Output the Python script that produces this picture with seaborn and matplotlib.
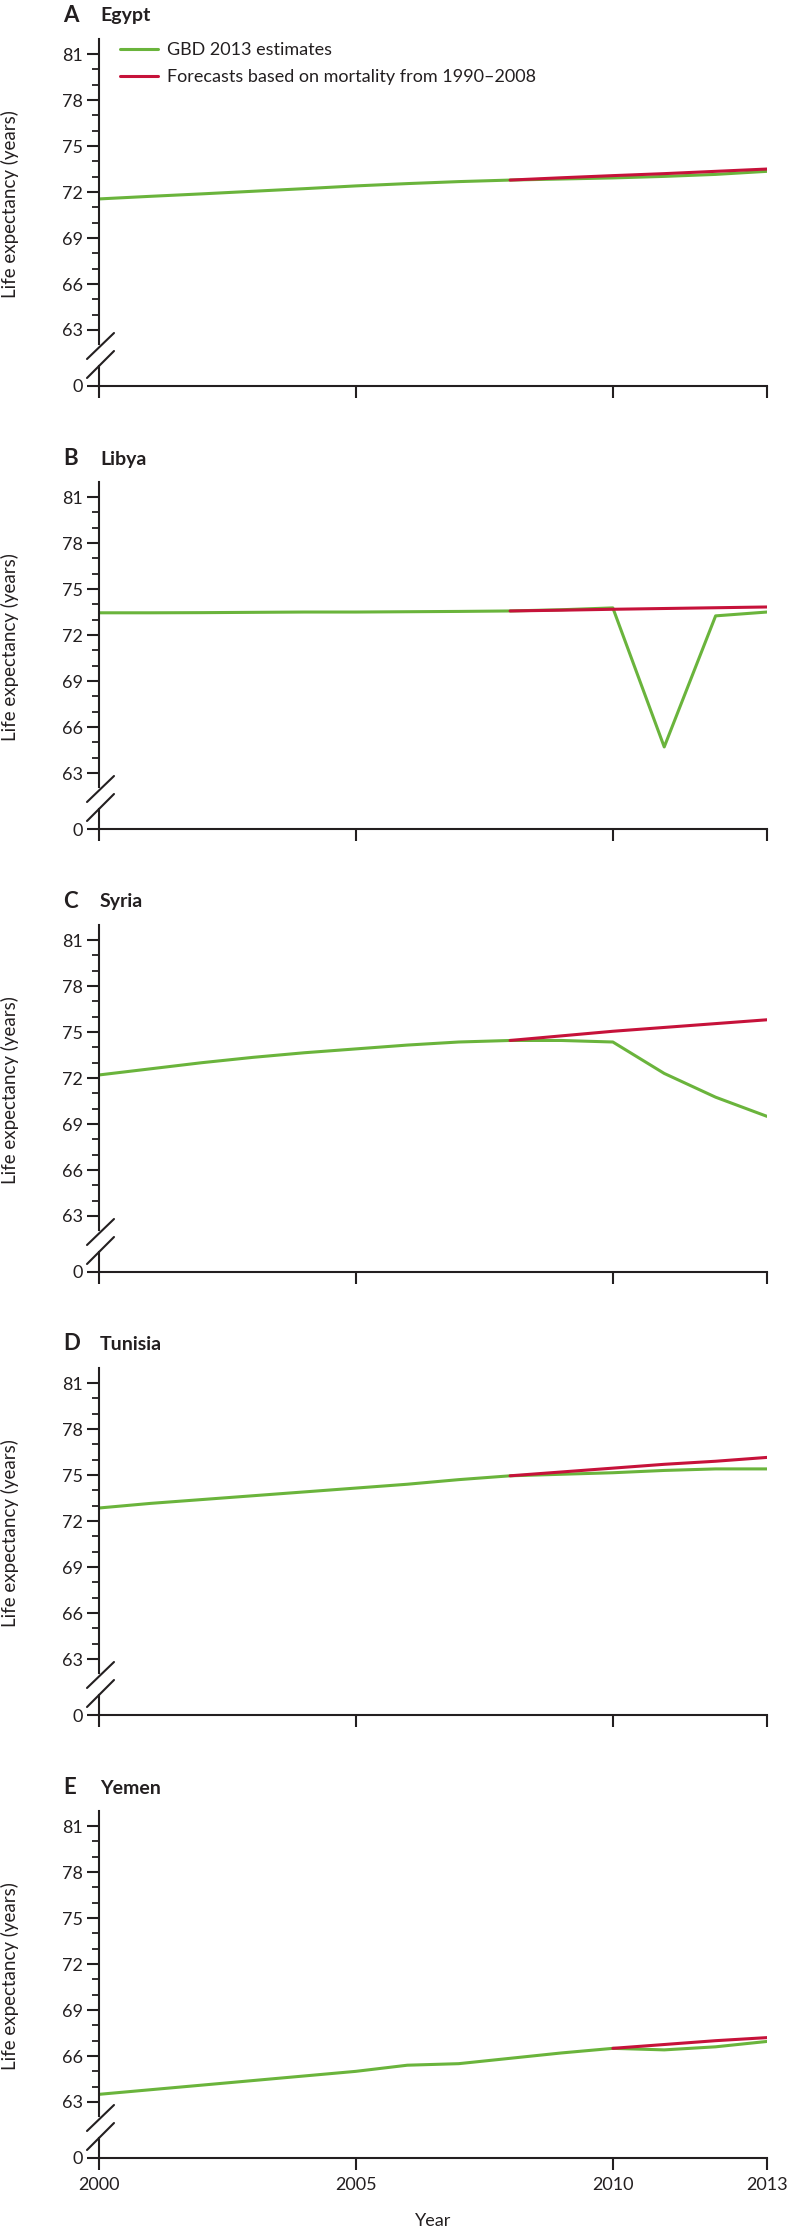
import matplotlib
matplotlib.use('Agg')
import matplotlib.pyplot as plt
from matplotlib.lines import Line2D
from matplotlib.ticker import FixedLocator
import seaborn as sns

sns.set_theme(style='ticks')
plt.rcParams['font.family'] = ['Lato', 'DejaVu Sans']

# Datos
years = list(range(2000, 2014))
forecast_years = list(range(2008, 2014))
forecast_years_yemen = list(range(2010, 2014))

panel_letters = ['A', 'B', 'C', 'D', 'E']
countries = ['Egypt', 'Libya', 'Syria', 'Tunisia', 'Yemen']

egypt_gbd = [71.55, 71.72, 71.88, 72.05, 72.22, 72.4, 72.55, 72.68, 72.78, 72.85, 72.92, 73.02, 73.15, 73.35]
egypt_fc = [72.78, 72.93, 73.07, 73.2, 73.35, 73.5]

libya_gbd = [73.45, 73.45, 73.46, 73.48, 73.5, 73.5, 73.52, 73.54, 73.57, 73.65, 73.77, 64.7, 73.25, 73.5]
libya_fc = [73.57, 73.62, 73.68, 73.73, 73.78, 73.83]

syria_gbd = [72.2, 72.6, 73.0, 73.35, 73.65, 73.9, 74.15, 74.35, 74.45, 74.45, 74.35, 72.3, 70.75, 69.5]
syria_fc = [74.45, 74.75, 75.05, 75.3, 75.55, 75.8]

tunisia_gbd = [72.85, 73.15, 73.4, 73.65, 73.9, 74.15, 74.4, 74.7, 74.95, 75.05, 75.15, 75.3, 75.4, 75.4]
tunisia_fc = [74.95, 75.2, 75.45, 75.7, 75.9, 76.15]

yemen_gbd = [63.5, 63.8, 64.1, 64.4, 64.7, 65.0, 65.4, 65.5, 65.85, 66.2, 66.5, 66.4, 66.6, 66.95]
yemen_fc = [66.5, 66.75, 67.0, 67.2]

gbd_series = [egypt_gbd, libya_gbd, syria_gbd, tunisia_gbd, yemen_gbd]
fc_series = [egypt_fc, libya_fc, syria_fc, tunisia_fc, yemen_fc]
fc_years = [forecast_years, forecast_years, forecast_years, forecast_years, forecast_years_yemen]

y_major = [63, 66, 69, 72, 75, 78, 81]
y_minor = [v for v in range(63, 82) if v not in y_major]
x_ticks = [2000, 2005, 2010, 2013]

GREEN = '#6ab43c'
RED = '#c6123a'
INK = '#231f20'

# Geometría en píxeles
W, H = 790, 2230
X0, X1 = 99, 767
PERIOD = 443
ZERO_Y = 386
S = 15.33
YLO, YHI = 62.1, 81.98


def fx(px):
    return px / W


def fy(py):
    return 1 - py / H


fig = plt.figure(figsize=(W / 100, H / 100), dpi=100)
fig.patch.set_facecolor('white')

for i in range(5):
    y0 = ZERO_Y + i * PERIOD
    top_bottom = y0 - 56 + (63 - YLO) * S
    top_height = (YHI - YLO) * S

    ax = fig.add_axes([fx(X0), fy(top_bottom), (X1 - X0) / W, top_height / H])
    axb = fig.add_axes([fx(X0), fy(y0), (X1 - X0) / W, 20 / H])
    for a in (ax, axb):
        a.set_facecolor('none')
        a.set_xlim(2000, 2013)

    # líneas
    sns.lineplot(x=years, y=gbd_series[i], ax=ax, color=GREEN, lw=2.2)
    sns.lineplot(x=fc_years[i], y=fc_series[i], ax=ax, color=RED, lw=2.2)

    ax.set_ylim(YLO, YHI)
    ax.set_yticks(y_major)
    ax.yaxis.set_minor_locator(FixedLocator(y_minor))
    ax.set_xlabel('')
    ax.set_ylabel('')
    ax.tick_params(axis='x', bottom=False, labelbottom=False)
    ax.tick_params(axis='y', which='major', length=8.6, width=1.5, color=INK,
                   labelsize=13, labelcolor=INK, pad=3)
    ax.tick_params(axis='y', which='minor', length=5, width=1.3, color=INK)
    for side in ['top', 'right', 'bottom']:
        ax.spines[side].set_visible(False)
    ax.spines['left'].set_color(INK)
    ax.spines['left'].set_linewidth(1.5)

    axb.set_ylim(0, 1)
    axb.set_yticks([0])
    axb.set_xticks(x_ticks)
    axb.tick_params(axis='both', length=8.6, width=1.5, color=INK,
                    labelsize=13, labelcolor=INK, pad=3)
    axb.tick_params(axis='x', pad=5, labelbottom=(i == 4))
    for side in ['top', 'right']:
        axb.spines[side].set_visible(False)
    for side in ['left', 'bottom']:
        axb.spines[side].set_color(INK)
        axb.spines[side].set_linewidth(1.5)

    # marcas de corte del eje
    for dy0, dy1 in [(27, 53), (8, 35)]:
        fig.add_artist(Line2D([fx(87), fx(114)], [fy(y0 - dy0), fy(y0 - dy1)],
                              transform=fig.transFigure, color=INK, lw=1.5))

    # títulos de panel
    ty = 15 + i * PERIOD
    fig.text(fx(63), fy(ty), panel_letters[i], fontsize=16, fontweight='bold',
             color=INK, ha='left', va='center')
    fig.text(fx(100), fy(ty + 1), countries[i], fontsize=14, fontweight='bold',
             color=INK, ha='left', va='center')

    fig.text(fx(10), fy(204 + i * PERIOD), 'Life expectancy (years)', rotation=90,
             fontsize=13.5, color=INK, ha='center', va='center')

    if i == 0:
        handles = [Line2D([], [], color=GREEN, lw=2.2), Line2D([], [], color=RED, lw=2.2)]
        labels = ['GBD 2013 estimates', 'Forecasts based on mortality from 1990\u20132008']
        ax.legend(handles, labels, loc='upper left', bbox_to_anchor=(fx(120), fy(42)),
                  bbox_transform=fig.transFigure, frameon=False, fontsize=13,
                  handlelength=2.1, handletextpad=0.5, labelspacing=0.6,
                  borderpad=0, borderaxespad=0, labelcolor=INK)
    else:
        leg = ax.get_legend()
        if leg is not None:
            leg.remove()

fig.text(fx(433), fy(2213), 'Year', fontsize=13, color=INK, ha='center', va='top')

plt.savefig('out.png', dpi=100)
